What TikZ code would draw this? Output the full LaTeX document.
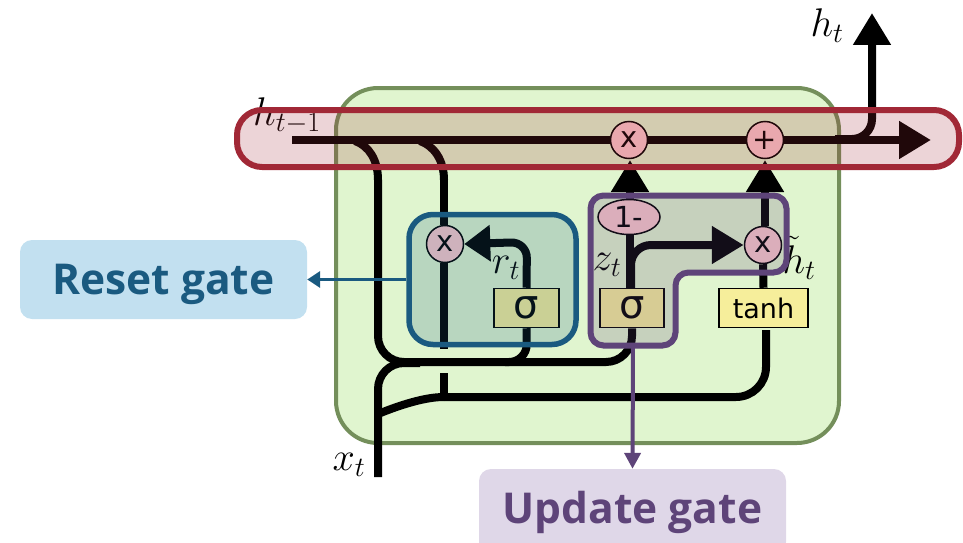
\documentclass[tikz,border=0pt]{standalone}
\usepackage{fix-cm}
\usepackage{fontspec}
\setmainfont{DejaVu Sans}
\newfontfamily\labelfont{Open Sans}
\usepackage{amsmath}
\usetikzlibrary{shapes.geometric, arrows.meta, positioning, backgrounds}
\definecolor{CellGreen}{HTML}{E0F5CF}
\definecolor{CellEdge}{HTML}{748F5B}
\definecolor{BandRed}{HTML}{A12836}
\definecolor{GateBlue}{HTML}{1A5A80}
\definecolor{GatePurple}{HTML}{5E4479}
\definecolor{OpPink}{HTML}{FBC9CC}
\definecolor{LayerYellow}{HTML}{F6EE9B}
\definecolor{ResetFill}{HTML}{C2E0F0}
\definecolor{UpdateFill}{HTML}{DFD7E8}
\tikzset{
  wire/.style={line width=8pt, black, rounded corners=26pt},
  wirehead/.style={wire, -{Triangle[length=32pt, width=36pt]}},
  opnode/.style={circle, draw=black, line width=1.5pt, fill=OpPink, minimum size=37pt, inner sep=0pt, font=\fontsize{29}{29}\selectfont},
  onenode/.style={opnode, ellipse, minimum width=62pt, minimum height=35pt},
  layernode/.style={rectangle, draw=black, line width=1.5pt, fill=LayerYellow, minimum height=39pt, inner sep=0pt, font=\fontsize{27}{27}\selectfont},
  sigmafont/.style={font=\fontsize{40}{40}\selectfont},
  mathlabel/.style={inner sep=0pt, font=\fontsize{40}{40}\selectfont},
  gatelabel/.style={rectangle, rounded corners=12pt, inner sep=0pt, text depth=0pt, font=\labelfont\bfseries\fontsize{42.5}{42.5}\selectfont},
  region/.style={rectangle, rounded corners=#1, inner sep=0pt, line width=5.5pt, fill opacity=0.2}
}
\begin{document}
\begin{tikzpicture}[x=1pt, y=-1pt]
        \useasboundingbox (0,0) rectangle (963,543);

        \node[opnode] (multkeep) at (445,244) {x};
        \node[opnode] (multpass) at (629,140) {x};
        \node[opnode] (addstate) at (765,140) {+};
        \node[opnode] (multnew) at (763,245) {x};
        \node[onenode] (oneminus) at (629,217) {1-};
        \node[layernode, sigmafont, minimum width=65pt] (sigmareset) at (526.5,308) {σ};
        \node[layernode, sigmafont, minimum width=64pt] (sigmaupdate) at (632,308) {σ};
        \node[layernode, minimum width=89pt] (tanhlayer) at (763.5,308) {tanh};

        \node[mathlabel] (hprev) at (287,116) {$h_{t-1}$};
        \node[mathlabel] (hnow) at (827,26) {$h_t$};
        \node[mathlabel] (rlabel) at (506,268) {$r_t$};
        \node[mathlabel] (zlabel) at (607,265) {$z_t$};
        \node[mathlabel] (hcand) at (799,258) {$\tilde{h}_t$};
        \node[mathlabel] (xlabel) at (349,465) {$x_t$};

        \coordinate (hstart) at (292,140);
        \coordinate (hend) at (931,140);
        \coordinate (hout) at (872,13);
        \coordinate (xin) at (378,477);
        \coordinate (topleft) at (378,180);
        \coordinate (topright) at (444,180);
        \coordinate (hopupper) at (444,349);
        \coordinate (hoplower) at (444,373);
        \coordinate (bottomjoin) at (444,397);
        \coordinate (sharedleft) at (378,414);

        \begin{scope}[on background layer]
          \node[rectangle, draw=CellEdge, fill=CellGreen, line width=4pt, rounded corners=42pt, minimum width=503pt, minimum height=355pt] (cell) at (587.5,265.5) {};
          \draw[wirehead] (hstart) -- (hend);
          \draw[wirehead, rounded corners=20pt] (835,139) -- (872,139) -- (hout);
          \draw[wire] (355,141) .. controls (369,146) and (378,160) .. (topleft);
          \draw[wire] (topleft) -- (378,362) -- (632,362) -- (sigmaupdate.south);
          \draw[wire] (420,141) .. controls (434,146) and (444,160) .. (topright);
          \draw[wire] (topright) -- (topright |- multkeep.north);
          \draw[wire] (topright |- multkeep.south) -- (hopupper);
          \draw[wire] (hoplower) -- (bottomjoin);
          \draw[wire, rounded corners=18pt] (505,362) -- (527,362) -- (sigmareset.south);
          \draw[wire, rounded corners=16pt, -{Triangle[length=26pt, width=35pt]}] (sigmareset.north) -- (527,242) -- (multkeep.east);
          \draw[wire] (xin) -- (378,363) -- (420,363);
          \draw[wire] (sharedleft) .. controls (400,405) and (425,397) .. (bottomjoin);
          \draw[wire, rounded corners=30pt] (bottomjoin) -- (766,397) -- (766,330);
          \draw[wire] (sigmaupdate.north -| 630,0) -- (oneminus.south -| 630,0);
          \draw[wirehead, rounded corners=20pt] (631,290) -- (631,245) -- (multnew.west);
          \draw[wire] (tanhlayer.north) -- (multnew.south);
          \draw[wirehead] (multnew.north -| 765,0) -- (765,160);
          \draw[wirehead] (oneminus.north -| 630,0) -- (630,160);
        \end{scope}

        \node[region=25pt, draw=BandRed, fill=BandRed, line width=6pt, minimum width=722pt, minimum height=57pt] (band) at (598,138.5) {};
        \node[region=24pt, draw=GateBlue, fill=GateBlue, minimum width=167pt, minimum height=130pt] (resetregion) at (492.5,279.5) {};
        \draw[draw=GatePurple, fill=GatePurple, fill opacity=0.2, line width=6pt, rounded corners=13pt] (590.5,195.5) -- (786.5,195.5) -- (786.5,272.5) -- (675.5,272.5) -- (675.5,345.5) -- (590.5,345.5) -- cycle;
        \coordinate (updateout) at (633,346);

        \node[gatelabel, fill=ResetFill, text=GateBlue, minimum width=287pt, minimum height=79pt, text height=29pt] (resetgate) at (163.5,279.5) {Reset gate};
        \node[gatelabel, fill=UpdateFill, text=GatePurple, minimum width=307pt, minimum height=85pt, text height=23pt] (updategate) at (632.5,511.5) {Update gate};
        \draw[draw=GateBlue, line width=3.5pt, -{Triangle[length=13pt, width=16pt]}] (resetregion.west) -- (resetgate.east);
        \draw[draw=GatePurple, line width=4pt, -{Triangle[length=16pt, width=16pt]}] (updateout) -- (updategate.north);
      \end{tikzpicture}
\end{document}
